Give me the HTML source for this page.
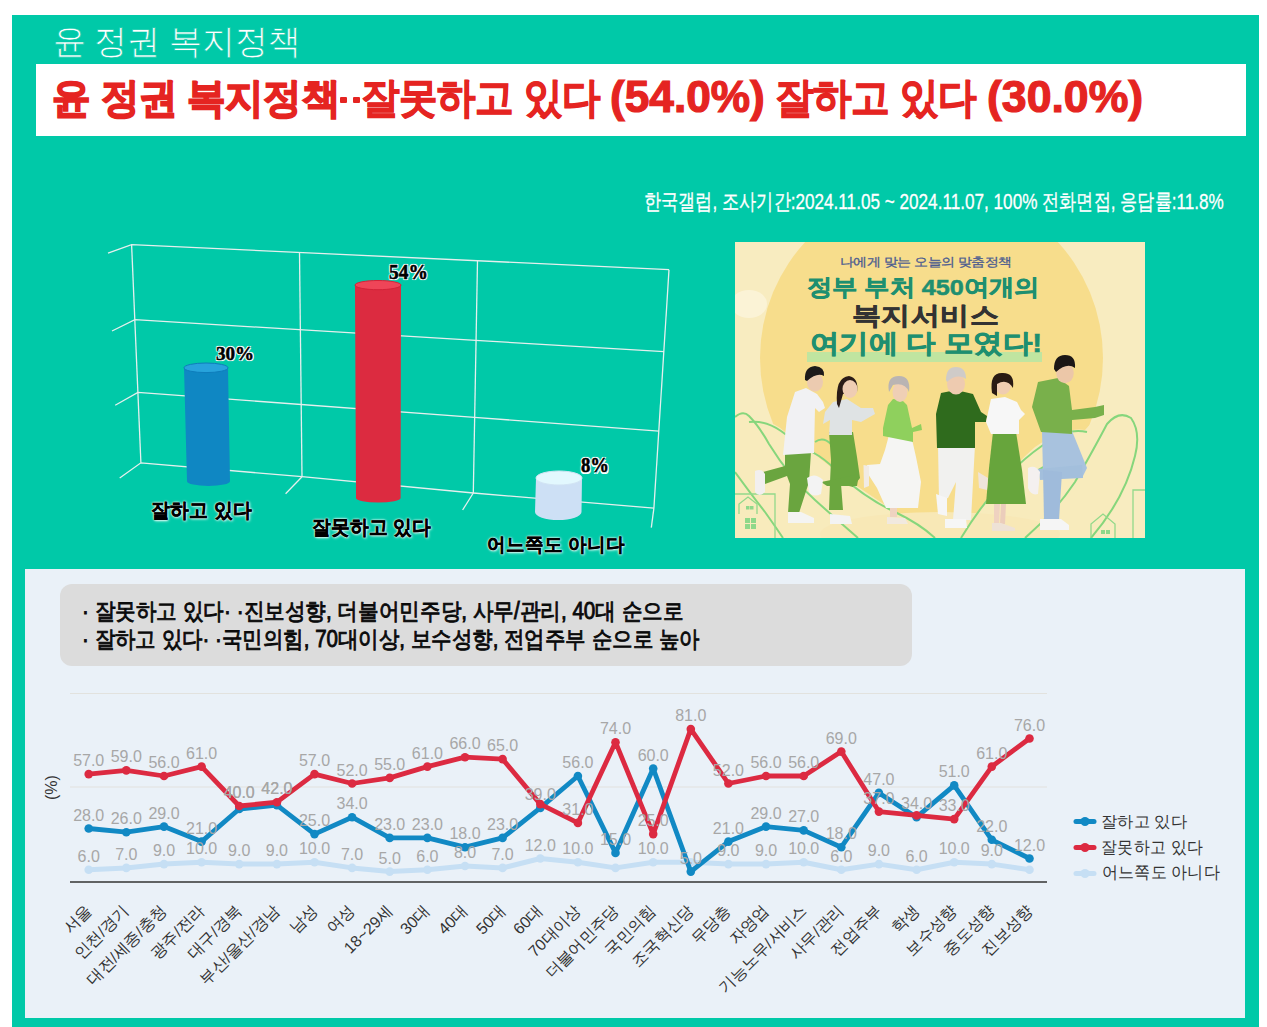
<!DOCTYPE html>
<html><head><meta charset="utf-8">
<style>
html,body{margin:0;padding:0;}
body{width:1267px;height:1027px;position:relative;overflow:hidden;background:#fff;font-family:"Liberation Sans",sans-serif;}
.abs{position:absolute;}
.sg{position:absolute;white-space:nowrap;transform-origin:0 0;}
.dot{position:absolute;width:7px;height:6px;background:#e52421;border-radius:1px;}
#frame{position:absolute;left:12px;top:15px;width:1247px;height:1012px;background:#00c9a8;}
#t1{position:absolute;left:53px;transform:scaleX(0.976);transform-origin:0 0;top:22px;font-family:"Liberation Serif",serif;font-size:34px;color:#fff;white-space:nowrap;line-height:40px;}
#tbox{position:absolute;left:36px;top:64px;width:1210px;height:72px;background:#fff;}
#t2{position:absolute;left:52px;top:71px;font-size:44px;transform:scaleX(0.916);font-weight:bold;color:#e4201f;white-space:nowrap;line-height:52px;transform-origin:0 0;-webkit-text-stroke:1.5px #e4201f;letter-spacing:-1px;}
#src{position:absolute;left:644px;top:186px;font-size:20px;transform:scaleX(0.934);color:#fff;white-space:nowrap;line-height:26px;transform-origin:0 0;letter-spacing:-1px;}
.bl{position:absolute;font-size:20px;font-weight:bold;color:#000;white-space:nowrap;line-height:24px;text-shadow:0 0 3px #fff,0 0 2px #fff,1px 1px 2px #c8f7ea;transform-origin:0 0;letter-spacing:-1px;}
.pct{position:absolute;font-family:"Liberation Serif",serif;font-size:18px;font-weight:bold;color:#000;white-space:nowrap;line-height:20px;text-shadow:0 0 2px #fff,0 0 2px #fff,0 0 1px #fff;}
#poster{position:absolute;left:735px;top:242px;width:410px;height:296px;overflow:hidden;}
#poster div{position:absolute;white-space:nowrap;transform-origin:0 0;}
.pt1{left:106px;top:12px;font-size:14px;color:#4b5d92;line-height:16px;}
.pt2{left:73px;top:33px;font-size:26px;font-weight:bold;color:#1e8f70;line-height:30px;letter-spacing:-1px;}
.pt3{left:118px;top:59px;font-size:27px;font-weight:bold;color:#333;line-height:30px;letter-spacing:-1px;}
.pt4{left:76px;top:87px;font-size:27px;font-weight:bold;color:#1e8f70;line-height:30px;letter-spacing:-1px;}
.phl{left:72px;top:110px;width:235px;height:10px;background:#c0e5a0;}
#panel{position:absolute;left:25px;top:569px;width:1220px;height:449px;background:#eaf1f8;}
#gbox{position:absolute;left:60px;top:584px;width:852px;height:82px;background:#dcdcdc;border-radius:12px;}
.gl{position:absolute;left:82px;transform:scaleX(0.945);font-size:23px;color:#0a0a0a;white-space:nowrap;line-height:28px;transform-origin:0 0;letter-spacing:-1px;}
.xl{position:absolute;width:300px;text-align:right;font-size:16px;color:#333;line-height:20px;transform-origin:300px 10px;transform:rotate(-45deg);white-space:nowrap;}
.lg{position:absolute;left:1103px;font-size:16px;color:#333;line-height:20px;white-space:nowrap;}
#pcty{position:absolute;left:38px;top:776px;font-size:16px;color:#333;transform:rotate(-90deg);transform-origin:14px 10px;line-height:20px;}
</style></head><body>
<div id="frame"></div>
<div id="tbox"></div>
<div class="dot" style="left:339.5px;top:97px"></div><div class="dot" style="left:352.5px;top:97px"></div>
<svg class="abs" style="left:0;top:0" width="1267" height="580" viewBox="0 0 1267 580">

<g stroke="#f2f2f2" stroke-width="1.3" fill="none" opacity="0.95">
<polyline points="108,253.2 131.6,244.6 669,269.7"/>
<polyline points="112,331 134.9,319.7 475.8,340.4 664,351.7"/>
<polyline points="115.2,405.3 137.9,392.4 474.5,417.3 658.9,431.2"/>
<polyline points="119.7,478 140.9,462.8 302,476.7 473.3,493 653.9,508.2"/>
<line x1="131.6" y1="244.6" x2="140.9" y2="462.8"/>
<line x1="299.5" y1="252.7" x2="302" y2="476.7"/>
<line x1="477.5" y1="260.8" x2="473.3" y2="493"/>
<line x1="669" y1="269.7" x2="653.9" y2="508.2"/>
<line x1="302" y1="476.7" x2="285.6" y2="493.7"/>
<line x1="473.3" y1="493" x2="462.6" y2="510"/>
<line x1="653.9" y1="508.2" x2="651.3" y2="527.7"/>
</g>

<path d="M184,367.8 L187,481.2 A21.5,4.8 0 0 0 230,481.2 L228,367.8 Z" fill="#0f87c3"/><ellipse cx="206.0" cy="367.8" rx="22.0" ry="4.8" fill="#27a3dc" stroke="#0e7dbb" stroke-width="1"/><path d="M355,285.1 L356,497.9 A22.30000000000001,4.6 0 0 0 400.6,497.9 L401,285.1 Z" fill="#dc2b40"/><ellipse cx="378.0" cy="285.1" rx="23.0" ry="4.6" fill="#ef4558" stroke="#d42238" stroke-width="1"/><path d="M536,478 L535,512 A23.25,8 0 0 0 581.5,512 L582,478 Z" fill="#cde0f5"/><ellipse cx="559.0" cy="478" rx="23.0" ry="7" fill="#e2f8fe" stroke="#d2e4f4" stroke-width="1"/>
</svg>
<div class="sg" style="left:52.75px;top:22.00px;transform:scale(0.9731,1.0000);font-family:'Liberation Serif',serif;font-size:34px;color:#fff;line-height:40px;-webkit-text-stroke:0.7px #00c9a8;">윤 정권 복지정책</div>
<div class="sg" style="left:52.13px;top:75.40px;transform:scale(0.8650,0.9209);font-size:44px;font-weight:bold;color:#e52421;-webkit-text-stroke:1.8px #e52421;line-height:50px;">윤 정권 복지정책</div>
<div class="sg" style="left:361.27px;top:74.34px;transform:scale(0.8650,0.9429);font-size:44px;font-weight:bold;color:#e52421;-webkit-text-stroke:1.1px #e52421;line-height:50px;">잘못하고 있다</div>
<div class="sg" style="left:609.70px;top:71.07px;transform:scale(1.0046,1.0186);font-size:44px;font-weight:bold;color:#e52421;-webkit-text-stroke:1.2px #e52421;line-height:50px;">(54.0%)</div>
<div class="sg" style="left:775.27px;top:74.34px;transform:scale(0.8670,0.9429);font-size:44px;font-weight:bold;color:#e52421;-webkit-text-stroke:1.1px #e52421;line-height:50px;">잘하고 있다</div>
<div class="sg" style="left:986.69px;top:71.07px;transform:scale(1.0138,1.0186);font-size:44px;font-weight:bold;color:#e52421;-webkit-text-stroke:1.2px #e52421;line-height:50px;">(30.0%)</div>
<div class="sg" style="left:644.22px;top:189.00px;transform:scale(0.7793,1.0000);font-size:22px;color:#fff;line-height:26px;-webkit-text-stroke:0.3px #fff;">한국갤럽, 조사기간:2024.11.05 ~ 2024.11.07, 100% 전화면접, 응답률:11.8%</div>
<div class="sg" style="left:215.70px;top:343.45px;transform:scale(1.0600,1.0846);font-family:'Liberation Serif',serif;font-size:18px;font-weight:bold;color:#000;line-height:20px;-webkit-text-stroke:0.5px #000;text-shadow:-1px -1px 0 #fff,1px -1px 0 #fff,-1px 1px 0 #fff,1px 1px 0 #fff,0 0 2px #fff,0 0 2px #fff">30%</div>
<div class="sg" style="left:388.70px;top:260.65px;transform:scale(1.0800,1.1154);font-family:'Liberation Serif',serif;font-size:18px;font-weight:bold;color:#000;line-height:20px;-webkit-text-stroke:0.5px #000;text-shadow:-1px -1px 0 #fff,1px -1px 0 #fff,-1px 1px 0 #fff,1px 1px 0 #fff,0 0 2px #fff,0 0 2px #fff">54%</div>
<div class="sg" style="left:580.60px;top:453.54px;transform:scale(1.0385,1.1538);font-family:'Liberation Serif',serif;font-size:18px;font-weight:bold;color:#000;line-height:20px;-webkit-text-stroke:0.5px #000;text-shadow:-1px -1px 0 #fff,1px -1px 0 #fff,-1px 1px 0 #fff,1px 1px 0 #fff,0 0 2px #fff,0 0 2px #fff">8%</div>
<div class="sg" style="left:151.34px;top:497.94px;transform:scale(0.9571,1.0200);font-size:20px;font-weight:bold;color:#000;line-height:24px;-webkit-text-stroke:0.4px #000;text-shadow:0 0 3px #fff,0 0 2px #fff,0 0 1px #fff,1px 1px 3px #bff5e6">잘하고 있다</div>
<div class="sg" style="left:312.06px;top:514.67px;transform:scale(0.9440,1.0100);font-size:20px;font-weight:bold;color:#000;line-height:24px;-webkit-text-stroke:0.4px #000;text-shadow:0 0 3px #fff,0 0 2px #fff,0 0 1px #fff,1px 1px 3px #bff5e6">잘못하고 있다</div>
<div class="sg" style="left:486.96px;top:533.09px;transform:scale(0.9441,0.9700);font-size:20px;font-weight:bold;color:#000;line-height:24px;-webkit-text-stroke:0.4px #000;text-shadow:0 0 3px #fff,0 0 2px #fff,0 0 1px #fff,1px 1px 3px #bff5e6">어느쪽도 아니다</div>

<div id="poster">
<svg width="410" height="296" viewBox="0 0 410 296" style="position:absolute;left:0;top:0">
<rect width="410" height="296" fill="#f8ecc0"/>
<circle cx="196.5" cy="116" r="171.5" fill="#f7dd8c"/>
<ellipse cx="14" cy="62" rx="18" ry="14" fill="#fbf3d6"/>
<path d="M0,172 Q13,165 22,182 Q35,176 50,190 Q80,212 110,236 Q160,270 200,296 L0,296 Z" fill="#f8ebbc"/>
<path d="M226,296 Q260,240 300,205 Q330,185 350,188 Q365,170 385,172 Q405,180 400,215 Q392,260 356,296 Z" fill="#f8ebbc"/>
<ellipse cx="205" cy="292" rx="120" ry="22" fill="#f8e8b6"/>
<g fill="none" stroke="#86d67c" stroke-width="2">
<path d="M0,175 Q8,168 14,174 Q24,184 34,202 Q55,236 80,258 Q100,276 123,296"/>
<path d="M14,180 Q30,178 46,189 Q66,204 84,214 Q96,222 104,232 Q130,256 160,270 Q185,282 200,296"/>
<path d="M80,200 Q88,194 96,202 Q104,210 110,220"/>
<path d="M226,296 Q248,260 276,230 Q296,210 316,198 Q334,186 352,190"/>
<path d="M290,296 Q320,270 340,240 Q360,205 372,182 Q384,168 396,176 Q406,190 400,214 Q390,256 356,296"/>
<path d="M300,230 Q326,214 344,212"/>
<path d="M0,230 Q16,252 30,270 Q40,284 48,296"/>
</g>
<g fill="none" stroke="#92d98a" stroke-width="1.3">
<path d="M0,252 L40,252 L40,296"/>
<path d="M4,272 L4,262 L13,255 L22,262 L22,272"/>
<path d="M356,296 L356,282 L368,272 L380,282 L380,296"/>
<path d="M398,296 L398,248 L410,248"/>
</g>
<g fill="#8fd88a"><rect x="10" y="276" width="5" height="5"/><rect x="16" y="276" width="5" height="5"/><rect x="10" y="282" width="5" height="5"/><rect x="16" y="282" width="5" height="5"/>
<rect x="11" y="264" width="3.5" height="3.5"/><rect x="15" y="264" width="3.5" height="3.5"/><rect x="366" y="288" width="4" height="4"/><rect x="371" y="288" width="4" height="4"/></g>
<!-- people -->
<g>
<!-- p1 man white shirt green pants -->
<path d="M50,211 L76,210 L74,240 L64,271 L53,271 L55,242 L52,234 L30,242 L28,230 L50,224 Z" fill="#6aa53f"/>
<path d="M20,229 Q27,226 30,232 L30,250 Q24,256 20,250 Z" fill="#f2efef"/>
<path d="M53,270 L66,270 L79,276 L79,281 L53,281 Z" fill="#f4f4f2"/>
<path d="M60,150 L71,146 L82,152 L88,160 L90,166 L84,170 L80,166 L79,211 L48,213 L52,175 Z" fill="#f1f1f3"/>
<ellipse cx="80" cy="140" rx="8" ry="9.5" fill="#eccbb0"/>
<path d="M70,138 Q69,125 80,124 Q90,125 89,134 Q82,130 72,139 Z" fill="#1d1a1a"/>
<!-- p2 woman grey top green pants -->
<path d="M94,190 L118,190 L122,215 L125,236 L118,245 L106,242 L108,268 L94,268 L95,240 L96,218 Z" fill="#6ba73f"/>
<path d="M106,236 L124,232 L122,244 L92,244 L86,240 Z" fill="#6ba73f"/>
<path d="M72,236 Q80,230 88,238 L86,252 Q78,256 74,250 Z" fill="#f3f3f3"/>
<path d="M95,272 L115,274 L117,282 L95,282 Z" fill="#f3f3f3"/>
<path d="M98,160 L112,157 L126,166 L138,166 L140,172 L126,180 L117,178 L117,193 L94,193 L95,178 L88,182 L90,170 Z" fill="#dfe3e4"/>
<path d="M102,162 Q100,135 114,134 Q124,136 122,150 L108,152 L104,166 Z" fill="#2b1c17"/>
<ellipse cx="115" cy="147" rx="7.5" ry="9" fill="#efcdb3"/>
<!-- p3 old woman green blouse white skirt -->
<path d="M154,193 L176,193 L181,215 L186,240 L183,266 L151,266 L142,246 L133,232 L132,223 L145,222 L150,208 Z" fill="#f5f5f3"/>
<path d="M128.5,223 L134,224 L134,244 L129,246 Z" fill="#f1ebe4"/>
<path d="M155,266 L162,266 L162,275 L155,275 Z" fill="#efd3c0"/>
<path d="M152,275 L170,276 L173,282 L152,282 Z" fill="#f1e9df"/>
<path d="M158,157 L167,158 L172,163 L177,186 L186,182 L187,188 L178,190 L178,200 L148,194 L148,186 L153,163 Z" fill="#8fd05d"/>
<ellipse cx="165" cy="150" rx="7.5" ry="10" fill="#efcfb5"/>
<path d="M154,150 Q151,134 164,134 Q176,134 174,150 Q170,140 158,143 Z" fill="#b9b4b3"/>
<!-- p4 old man dark green sweater white pants -->
<path d="M203,203 L240,203 L238,240 L236,278 L218,278 L221,240 L213,256 L204,258 Z" fill="#f1f1ef"/>
<path d="M201,252 L212,256 L212,274 L203,272 Z" fill="#f6f6f6"/>
<path d="M210,277 L231,277 L232,286 L210,286 Z" fill="#f6f6f6"/>
<path d="M206,151 L221,148 L238,152 L246,170 L252,174 L251,180 L240,180 L240,206 L202,206 L201,172 Z" fill="#2f6b1d"/>
<ellipse cx="221" cy="142" rx="9" ry="10.5" fill="#eecbb0"/>
<path d="M211,138 Q211,125 221,125 Q231,125 231,137 Q222,131 212,140 Z" fill="#cfcbc8"/>
<!-- p5 woman white top green skirt -->
<path d="M258,190 L281,190 L287,228 L291,262 L251,262 L254,226 Z" fill="#67a53c"/>
<path d="M243,230 L253,236 L252,248 L244,246 Z" fill="#efe4da"/>
<path d="M259,262 L265,262 L264,282 L259,282 Z" fill="#efd2c0"/><path d="M266,262 L271,262 L270,282 L265,282 Z" fill="#ebcdbb"/><path d="M257,281 L266,281 L280,286 L280,289 L257,289 Z" fill="#eee2d6"/>
<path d="M256,157 L270,155 L282,160 L286,168 L290,172 L284,178 L284,192 L256,192 L251,180 Z" fill="#f7f7f7"/>
<ellipse cx="268" cy="143" rx="8" ry="9.5" fill="#f0cdb1"/>
<path d="M257,151 Q254,130 268,131 Q280,131 278,146 Q272,136 262,142 L262,154 Z" fill="#2a1b13"/>
<!-- p6 man green shirt jeans -->
<path d="M307,189 L337,189 L352,226 L347,236 L325,236 L308,232 Z" fill="#a8c2de"/>
<path d="M347,223 L348,236 L305,238 L303,227 Z" fill="#a3bfdc"/>
<path d="M308,228 L327,230 L324,278 L309,278 Z" fill="#9fbbdb"/>
<path d="M293,226 Q300,222 305,230 L303,252 Q296,254 293,246 Z" fill="#f4f0ef"/>
<path d="M305,277 L326,277 L334,283 L334,288 L305,288 Z" fill="#f5f5f5"/>
<path d="M303,140 L323,136 L334,144 L337,168 L360,165 L369,163 L369,173 L360,176 L337,178 L337,192 L306,190 L297,165 Z" fill="#79b04b"/>
<ellipse cx="330" cy="131" rx="8.8" ry="10.2" fill="#ecc7a8"/>
<path d="M319,127 Q319,113 330,113 Q341,113 340,126 Q332,120 321,130 Z" fill="#1c1716"/>
</g>
</svg>
<div class="phl"></div>
<div class="sg" style="left:105.05px;top:12.86px;transform:scale(0.9548,0.8214);font-size:14px;color:#4a5b90;line-height:16px;-webkit-text-stroke:0.35px #4a5b90;">나에게 맞는 오늘의 맞춤정책</div>
<div class="sg" style="left:72.03px;top:32.48px;transform:scale(0.9686,0.8800);font-size:26px;font-weight:bold;color:#1e8f70;line-height:30px;-webkit-text-stroke:0.6px #1e8f70;">정부 부처 450여개의</div>
<div class="sg" style="left:116.51px;top:59.17px;transform:scale(1.0917,0.9423);font-size:27px;font-weight:bold;color:#333;line-height:30px;-webkit-text-stroke:0.6px #333;">복지서비스</div>
<div class="sg" style="left:74.87px;top:86.00px;transform:scale(1.1312,1.0000);font-size:26px;font-weight:bold;color:#1e8f70;line-height:30px;-webkit-text-stroke:0.6px #1e8f70;">여기에 다 모였다!</div>
</div>

<div id="panel"></div>
<div id="gbox"></div>
<div class="sg" style="left:82.21px;top:597.00px;transform:scale(0.8967,1.0000);font-size:23px;color:#0a0a0a;line-height:28px;-webkit-text-stroke:0.9px #0a0a0a;">· 잘못하고 있다·&nbsp;·진보성향, 더불어민주당, 사무/관리, 40대 순으로</div>
<div class="sg" style="left:82.22px;top:625.30px;transform:scale(0.8902,1.0000);font-size:23px;color:#0a0a0a;line-height:28px;-webkit-text-stroke:0.9px #0a0a0a;">· 잘하고 있다·&nbsp;·국민의힘, 70대이상, 보수성향, 전업주부 순으로 높아</div>
<svg class="abs" style="left:0;top:0" width="1267" height="1027" viewBox="0 0 1267 1027">
<line x1="70" y1="693.5" x2="1047" y2="693.5" stroke="#e2e2de" stroke-width="1.2"/>
<line x1="70" y1="787" x2="1047" y2="787" stroke="#e2e2de" stroke-width="1.2"/>
<line x1="70" y1="882" x2="1047" y2="882" stroke="#333" stroke-width="1.6"/>
<polyline points="88.7,869.8 126.3,867.9 164.0,864.1 201.6,862.2 239.2,864.1 276.9,864.1 314.5,862.2 352.1,867.9 389.7,871.6 427.4,869.8 465.0,866.0 502.6,867.9 540.3,858.5 577.9,862.2 615.5,867.9 653.2,862.2 690.8,862.2 728.4,864.1 766.0,864.1 803.7,862.2 841.3,869.8 878.9,864.1 916.6,869.8 954.2,862.2 991.8,864.1 1029.5,869.8" fill="none" stroke="#c6dff4" stroke-width="5" stroke-linejoin="round"/>
<circle cx="88.7" cy="869.8" r="4.3" fill="#c6dff4"/>
<circle cx="126.3" cy="867.9" r="4.3" fill="#c6dff4"/>
<circle cx="164.0" cy="864.1" r="4.3" fill="#c6dff4"/>
<circle cx="201.6" cy="862.2" r="4.3" fill="#c6dff4"/>
<circle cx="239.2" cy="864.1" r="4.3" fill="#c6dff4"/>
<circle cx="276.9" cy="864.1" r="4.3" fill="#c6dff4"/>
<circle cx="314.5" cy="862.2" r="4.3" fill="#c6dff4"/>
<circle cx="352.1" cy="867.9" r="4.3" fill="#c6dff4"/>
<circle cx="389.7" cy="871.6" r="4.3" fill="#c6dff4"/>
<circle cx="427.4" cy="869.8" r="4.3" fill="#c6dff4"/>
<circle cx="465.0" cy="866.0" r="4.3" fill="#c6dff4"/>
<circle cx="502.6" cy="867.9" r="4.3" fill="#c6dff4"/>
<circle cx="540.3" cy="858.5" r="4.3" fill="#c6dff4"/>
<circle cx="577.9" cy="862.2" r="4.3" fill="#c6dff4"/>
<circle cx="615.5" cy="867.9" r="4.3" fill="#c6dff4"/>
<circle cx="653.2" cy="862.2" r="4.3" fill="#c6dff4"/>
<circle cx="690.8" cy="862.2" r="4.3" fill="#c6dff4"/>
<circle cx="728.4" cy="864.1" r="4.3" fill="#c6dff4"/>
<circle cx="766.0" cy="864.1" r="4.3" fill="#c6dff4"/>
<circle cx="803.7" cy="862.2" r="4.3" fill="#c6dff4"/>
<circle cx="841.3" cy="869.8" r="4.3" fill="#c6dff4"/>
<circle cx="878.9" cy="864.1" r="4.3" fill="#c6dff4"/>
<circle cx="916.6" cy="869.8" r="4.3" fill="#c6dff4"/>
<circle cx="954.2" cy="862.2" r="4.3" fill="#c6dff4"/>
<circle cx="991.8" cy="864.1" r="4.3" fill="#c6dff4"/>
<circle cx="1029.5" cy="869.8" r="4.3" fill="#c6dff4"/>
<polyline points="88.7,828.5 126.3,832.2 164.0,826.6 201.6,841.6 239.2,809.0 276.9,805.2 314.5,834.1 352.1,817.2 389.7,837.9 427.4,837.9 465.0,847.2 502.6,837.9 540.3,807.9 577.9,776.0 615.5,852.9 653.2,768.5 690.8,871.6 728.4,841.6 766.0,826.6 803.7,830.4 841.3,847.2 878.9,792.9 916.6,817.2 954.2,785.4 991.8,839.8 1029.5,858.5" fill="none" stroke="#1189c4" stroke-width="4.8" stroke-linejoin="round"/>
<circle cx="88.7" cy="828.5" r="4.3" fill="#1189c4"/>
<circle cx="126.3" cy="832.2" r="4.3" fill="#1189c4"/>
<circle cx="164.0" cy="826.6" r="4.3" fill="#1189c4"/>
<circle cx="201.6" cy="841.6" r="4.3" fill="#1189c4"/>
<circle cx="239.2" cy="809.0" r="4.3" fill="#1189c4"/>
<circle cx="276.9" cy="805.2" r="4.3" fill="#1189c4"/>
<circle cx="314.5" cy="834.1" r="4.3" fill="#1189c4"/>
<circle cx="352.1" cy="817.2" r="4.3" fill="#1189c4"/>
<circle cx="389.7" cy="837.9" r="4.3" fill="#1189c4"/>
<circle cx="427.4" cy="837.9" r="4.3" fill="#1189c4"/>
<circle cx="465.0" cy="847.2" r="4.3" fill="#1189c4"/>
<circle cx="502.6" cy="837.9" r="4.3" fill="#1189c4"/>
<circle cx="540.3" cy="807.9" r="4.3" fill="#1189c4"/>
<circle cx="577.9" cy="776.0" r="4.3" fill="#1189c4"/>
<circle cx="615.5" cy="852.9" r="4.3" fill="#1189c4"/>
<circle cx="653.2" cy="768.5" r="4.3" fill="#1189c4"/>
<circle cx="690.8" cy="871.6" r="4.3" fill="#1189c4"/>
<circle cx="728.4" cy="841.6" r="4.3" fill="#1189c4"/>
<circle cx="766.0" cy="826.6" r="4.3" fill="#1189c4"/>
<circle cx="803.7" cy="830.4" r="4.3" fill="#1189c4"/>
<circle cx="841.3" cy="847.2" r="4.3" fill="#1189c4"/>
<circle cx="878.9" cy="792.9" r="4.3" fill="#1189c4"/>
<circle cx="916.6" cy="817.2" r="4.3" fill="#1189c4"/>
<circle cx="954.2" cy="785.4" r="4.3" fill="#1189c4"/>
<circle cx="991.8" cy="839.8" r="4.3" fill="#1189c4"/>
<circle cx="1029.5" cy="858.5" r="4.3" fill="#1189c4"/>
<polyline points="88.7,774.1 126.3,770.4 164.0,776.0 201.6,766.6 239.2,806.0 276.9,802.2 314.5,774.1 352.1,783.5 389.7,777.9 427.4,766.6 465.0,757.2 502.6,759.1 540.3,804.1 577.9,822.9 615.5,742.2 653.2,834.1 690.8,729.1 728.4,783.5 766.0,776.0 803.7,776.0 841.3,751.6 878.9,811.6 916.6,815.4 954.2,819.1 991.8,766.6 1029.5,738.5" fill="none" stroke="#dc2a41" stroke-width="4.8" stroke-linejoin="round"/>
<circle cx="88.7" cy="774.1" r="4.3" fill="#dc2a41"/>
<circle cx="126.3" cy="770.4" r="4.3" fill="#dc2a41"/>
<circle cx="164.0" cy="776.0" r="4.3" fill="#dc2a41"/>
<circle cx="201.6" cy="766.6" r="4.3" fill="#dc2a41"/>
<circle cx="239.2" cy="806.0" r="4.3" fill="#dc2a41"/>
<circle cx="276.9" cy="802.2" r="4.3" fill="#dc2a41"/>
<circle cx="314.5" cy="774.1" r="4.3" fill="#dc2a41"/>
<circle cx="352.1" cy="783.5" r="4.3" fill="#dc2a41"/>
<circle cx="389.7" cy="777.9" r="4.3" fill="#dc2a41"/>
<circle cx="427.4" cy="766.6" r="4.3" fill="#dc2a41"/>
<circle cx="465.0" cy="757.2" r="4.3" fill="#dc2a41"/>
<circle cx="502.6" cy="759.1" r="4.3" fill="#dc2a41"/>
<circle cx="540.3" cy="804.1" r="4.3" fill="#dc2a41"/>
<circle cx="577.9" cy="822.9" r="4.3" fill="#dc2a41"/>
<circle cx="615.5" cy="742.2" r="4.3" fill="#dc2a41"/>
<circle cx="653.2" cy="834.1" r="4.3" fill="#dc2a41"/>
<circle cx="690.8" cy="729.1" r="4.3" fill="#dc2a41"/>
<circle cx="728.4" cy="783.5" r="4.3" fill="#dc2a41"/>
<circle cx="766.0" cy="776.0" r="4.3" fill="#dc2a41"/>
<circle cx="803.7" cy="776.0" r="4.3" fill="#dc2a41"/>
<circle cx="841.3" cy="751.6" r="4.3" fill="#dc2a41"/>
<circle cx="878.9" cy="811.6" r="4.3" fill="#dc2a41"/>
<circle cx="916.6" cy="815.4" r="4.3" fill="#dc2a41"/>
<circle cx="954.2" cy="819.1" r="4.3" fill="#dc2a41"/>
<circle cx="991.8" cy="766.6" r="4.3" fill="#dc2a41"/>
<circle cx="1029.5" cy="738.5" r="4.3" fill="#dc2a41"/>
<g font-family="Liberation Sans, sans-serif" font-size="16" fill="#a7a7a7" text-anchor="middle">
<text x="88.7" y="861.8">6.0</text>
<text x="126.3" y="859.9">7.0</text>
<text x="164.0" y="856.1">9.0</text>
<text x="201.6" y="854.2">10.0</text>
<text x="239.2" y="856.1">9.0</text>
<text x="276.9" y="856.1">9.0</text>
<text x="314.5" y="854.2">10.0</text>
<text x="352.1" y="859.9">7.0</text>
<text x="389.7" y="863.6">5.0</text>
<text x="427.4" y="861.8">6.0</text>
<text x="465.0" y="858.0">8.0</text>
<text x="502.6" y="859.9">7.0</text>
<text x="540.3" y="850.5">12.0</text>
<text x="577.9" y="854.2">10.0</text>
<text x="653.2" y="854.2">10.0</text>
<text x="728.4" y="856.1">9.0</text>
<text x="766.0" y="856.1">9.0</text>
<text x="803.7" y="854.2">10.0</text>
<text x="841.3" y="861.8">6.0</text>
<text x="878.9" y="856.1">9.0</text>
<text x="916.6" y="861.8">6.0</text>
<text x="954.2" y="854.2">10.0</text>
<text x="991.8" y="856.1">9.0</text>
<text x="88.7" y="820.5">28.0</text>
<text x="126.3" y="824.2">26.0</text>
<text x="164.0" y="818.6">29.0</text>
<text x="201.6" y="833.6">21.0</text>
<text x="239.2" y="798.0">40.0</text>
<text x="276.9" y="794.2">42.0</text>
<text x="314.5" y="826.1">25.0</text>
<text x="352.1" y="809.2">34.0</text>
<text x="389.7" y="829.9">23.0</text>
<text x="427.4" y="829.9">23.0</text>
<text x="465.0" y="839.2">18.0</text>
<text x="502.6" y="829.9">23.0</text>
<text x="540.3" y="799.9">39.0</text>
<text x="577.9" y="768.0">56.0</text>
<text x="615.5" y="844.9">15.0</text>
<text x="653.2" y="760.5">60.0</text>
<text x="690.8" y="863.6">5.0</text>
<text x="728.4" y="833.6">21.0</text>
<text x="766.0" y="818.6">29.0</text>
<text x="803.7" y="822.4">27.0</text>
<text x="841.3" y="839.2">18.0</text>
<text x="878.9" y="784.9">47.0</text>
<text x="916.6" y="809.2">34.0</text>
<text x="954.2" y="777.4">51.0</text>
<text x="991.8" y="831.8">22.0</text>
<text x="1029.5" y="850.5">12.0</text>
<text x="88.7" y="766.1">57.0</text>
<text x="126.3" y="762.4">59.0</text>
<text x="164.0" y="768.0">56.0</text>
<text x="201.6" y="758.6">61.0</text>
<text x="239.2" y="798.0">40.0</text>
<text x="276.9" y="794.2">42.0</text>
<text x="314.5" y="766.1">57.0</text>
<text x="352.1" y="775.5">52.0</text>
<text x="389.7" y="769.9">55.0</text>
<text x="427.4" y="758.6">61.0</text>
<text x="465.0" y="749.2">66.0</text>
<text x="502.6" y="751.1">65.0</text>
<text x="577.9" y="814.9">31.0</text>
<text x="615.5" y="734.2">74.0</text>
<text x="653.2" y="826.1">25.0</text>
<text x="690.8" y="721.1">81.0</text>
<text x="728.4" y="775.5">52.0</text>
<text x="766.0" y="768.0">56.0</text>
<text x="803.7" y="768.0">56.0</text>
<text x="841.3" y="743.6">69.0</text>
<text x="878.9" y="803.6">37.0</text>
<text x="954.2" y="811.1">33.0</text>
<text x="991.8" y="758.6">61.0</text>
<text x="1029.5" y="730.5">76.0</text>
</g>
<g stroke-linecap="round">
<line x1="1076" y1="821.5" x2="1094" y2="821.5" stroke="#1189c4" stroke-width="5"/><circle cx="1085" cy="821.5" r="4.5" fill="#1189c4"/>
<line x1="1076" y1="847.5" x2="1094" y2="847.5" stroke="#dc2a41" stroke-width="5"/><circle cx="1085" cy="847.5" r="4.5" fill="#dc2a41"/>
<line x1="1076" y1="873.5" x2="1094" y2="873.5" stroke="#c6dff4" stroke-width="5"/><circle cx="1085" cy="873.5" r="4.5" fill="#c6dff4"/>
</g>
</svg>
<div id="pcty">(%)</div>
<div class="xl" style="left:-211.3px;top:898px">서울</div>
<div class="xl" style="left:-173.7px;top:898px">인천/경기</div>
<div class="xl" style="left:-136.0px;top:898px">대전/세종/충청</div>
<div class="xl" style="left:-98.4px;top:898px">광주/전라</div>
<div class="xl" style="left:-60.8px;top:898px">대구/경북</div>
<div class="xl" style="left:-23.1px;top:898px">부산/울산/경남</div>
<div class="xl" style="left:14.5px;top:898px">남성</div>
<div class="xl" style="left:52.1px;top:898px">여성</div>
<div class="xl" style="left:89.7px;top:898px">18~29세</div>
<div class="xl" style="left:127.4px;top:898px">30대</div>
<div class="xl" style="left:165.0px;top:898px">40대</div>
<div class="xl" style="left:202.6px;top:898px">50대</div>
<div class="xl" style="left:240.3px;top:898px">60대</div>
<div class="xl" style="left:277.9px;top:898px">70대이상</div>
<div class="xl" style="left:315.5px;top:898px">더불어민주당</div>
<div class="xl" style="left:353.2px;top:898px">국민의힘</div>
<div class="xl" style="left:390.8px;top:898px">조국혁신당</div>
<div class="xl" style="left:428.4px;top:898px">무당층</div>
<div class="xl" style="left:466.0px;top:898px">자영업</div>
<div class="xl" style="left:503.7px;top:898px">기능노무/서비스</div>
<div class="xl" style="left:541.3px;top:898px">사무/관리</div>
<div class="xl" style="left:578.9px;top:898px">전업주부</div>
<div class="xl" style="left:616.6px;top:898px">학생</div>
<div class="xl" style="left:654.2px;top:898px">보수성향</div>
<div class="xl" style="left:691.8px;top:898px">중도성향</div>
<div class="xl" style="left:729.5px;top:898px">진보성향</div>
<div class="sg" style="left:1100.96px;top:812.00px;transform:scale(1.0195,1.0000);font-size:16px;color:#333;line-height:20px;">잘하고 있다</div>
<div class="sg" style="left:1100.96px;top:837.22px;transform:scale(1.0204,1.0929);font-size:16px;color:#333;line-height:20px;">잘못하고 있다</div>
<div class="sg" style="left:1101.99px;top:861.98px;transform:scale(1.0122,1.0733);font-size:16px;color:#333;line-height:20px;">어느쪽도 아니다</div>
</body></html>
